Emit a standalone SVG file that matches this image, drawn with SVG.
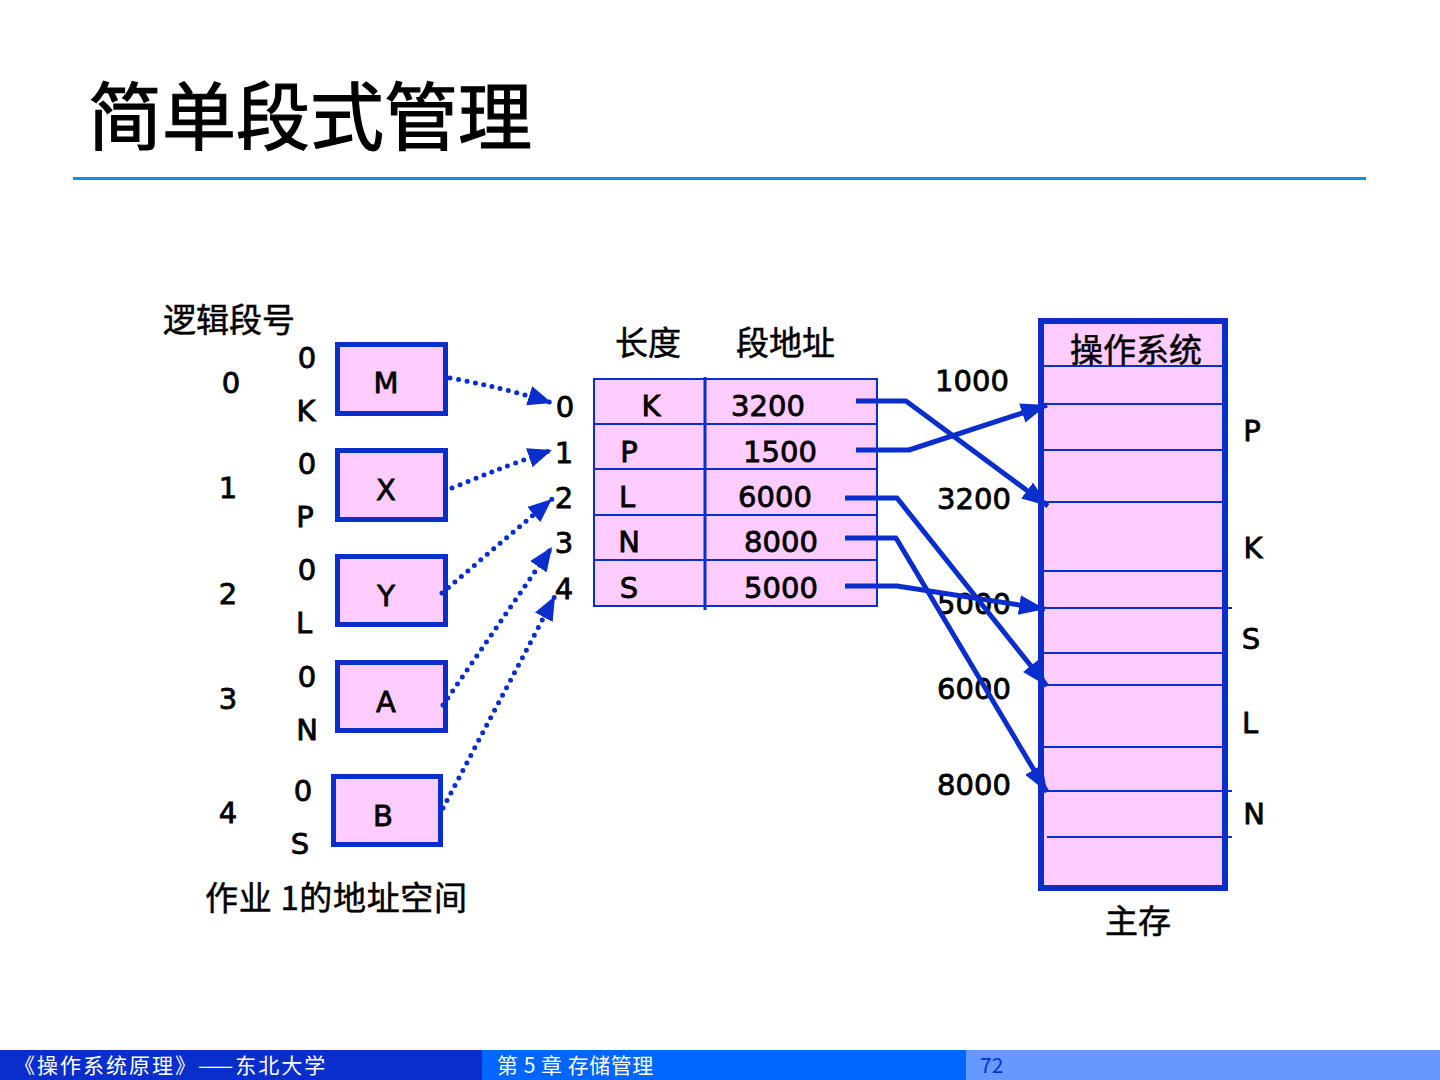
<svg xmlns="http://www.w3.org/2000/svg" width="1440" height="1080" viewBox="0 0 1440 1080">
<defs>
<style>
.t{font-family:"DejaVu Sans","Liberation Sans",sans-serif;font-size:29px;fill:#000;stroke:#000;stroke-width:0.8;text-anchor:middle}
.c{font-family:"Noto Sans CJK SC","Noto Sans CJK JP",sans-serif;font-size:33px;fill:#000;stroke:#000;stroke-width:0.5}
.box{fill:#ffccff;stroke:#0a2ecc;stroke-width:5}
.thin{stroke:#0a2ecc;stroke-width:2;fill:none}
.sol{stroke:#0a2ecc;stroke-width:5;fill:none;stroke-linejoin:round}
.dot{stroke:#0a2ecc;stroke-width:5;fill:none;stroke-linecap:round;stroke-dasharray:0 8.5}
.ft{font-family:"Noto Sans CJK SC",sans-serif;font-size:21px;fill:#fff;letter-spacing:2px}
</style>
<marker id="ah" viewBox="0 0 26 20" refX="26" refY="10" markerWidth="26" markerHeight="20" markerUnits="userSpaceOnUse" orient="auto">
<path d="M0,0 L26,10 L0,20 Z" fill="#0a2ecc"/>
</marker>
<marker id="ad" viewBox="0 0 24 20" refX="24" refY="10" markerWidth="24" markerHeight="20" markerUnits="userSpaceOnUse" orient="auto">
<path d="M0,0 L24,10 L0,20 Z" fill="#0a2ecc"/>
</marker>
</defs>
<rect width="1440" height="1080" fill="#fff"/>

<text x="88" y="144" font-family="Noto Sans CJK SC,sans-serif" font-size="74" fill="#000" stroke="#000" stroke-width="1.2">简单段式管理</text>
<rect x="73" y="177" width="1293" height="3" fill="#1a8ce8"/>

<g id="labels-left">
<text class="c" x="163" y="332">逻辑段号</text>
<text class="t" x="231" y="393">0</text>
<text class="t" x="228" y="498">1</text>
<text class="t" x="228" y="604">2</text>
<text class="t" x="228" y="709">3</text>
<text class="t" x="228" y="823">4</text>
<text class="t" x="307" y="368">0</text>
<text class="t" x="306" y="421">K</text>
<text class="t" x="307" y="474">0</text>
<text class="t" x="305" y="527">P</text>
<text class="t" x="307" y="580">0</text>
<text class="t" x="304" y="633">L</text>
<text class="t" x="307" y="687">0</text>
<text class="t" x="307" y="740">N</text>
<text class="t" x="303" y="801">0</text>
<text class="t" x="300" y="854">S</text>
<text class="c" x="205" y="910" textLength="262" lengthAdjust="spacing">作业 1的地址空间</text>
</g>

<g id="seg-M"><rect class="box" x="337.5" y="344.5" width="108" height="69"/><text class="t" x="386" y="393">M</text></g>
<g id="seg-X"><rect class="box" x="337.5" y="450.5" width="108" height="69"/><text class="t" x="386" y="500">X</text></g>
<g id="seg-Y"><rect class="box" x="337.5" y="556.5" width="108" height="68"/><text class="t" x="386" y="606">Y</text></g>
<g id="seg-A"><rect class="box" x="337.5" y="662.5" width="108" height="68"/><text class="t" x="386" y="712">A</text></g>
<g id="seg-B"><rect class="box" x="333.5" y="776.5" width="107" height="68"/><text class="t" x="383" y="826">B</text></g>

<g id="segment-table">
<text class="c" x="615" y="355">长度</text>
<text class="c" x="736" y="355">段地址</text>
<rect x="594" y="379" width="283" height="227" fill="#ffccff" stroke="#0a2ecc" stroke-width="2"/>
<line class="thin" x1="594" y1="424" x2="877" y2="424"/>
<line class="thin" x1="594" y1="469" x2="877" y2="469"/>
<line class="thin" x1="594" y1="515" x2="877" y2="515"/>
<line class="thin" x1="594" y1="560" x2="877" y2="560"/>
<line x1="705" y1="377" x2="705" y2="610" stroke="#0a2ecc" stroke-width="3"/>
<text class="t" x="565" y="417">0</text>
<text class="t" x="564" y="463">1</text>
<text class="t" x="564" y="508">2</text>
<text class="t" x="564" y="553">3</text>
<text class="t" x="564" y="599">4</text>
<text class="t" x="651" y="416">K</text>
<text class="t" x="629" y="462">P</text>
<text class="t" x="627" y="507">L</text>
<text class="t" x="629" y="552">N</text>
<text class="t" x="629" y="598">S</text>
<text class="t" x="768" y="416">3200</text>
<text class="t" x="780" y="462">1500</text>
<text class="t" x="775" y="507">6000</text>
<text class="t" x="781" y="552">8000</text>
<text class="t" x="781" y="598">5000</text>
</g>

<g id="main-memory">
<rect x="1041" y="321" width="184" height="567" fill="#ffccff" stroke="#0a2ecc" stroke-width="6"/>
<line class="thin" x1="1044" y1="366" x2="1222" y2="366"/>
<line class="thin" x1="1044" y1="404" x2="1222" y2="404"/>
<line class="thin" x1="1044" y1="450" x2="1222" y2="450"/>
<line class="thin" x1="1044" y1="502" x2="1222" y2="502"/>
<line class="thin" x1="1044" y1="571" x2="1222" y2="571"/>
<line class="thin" x1="1044" y1="608" x2="1232" y2="608"/>
<line class="thin" x1="1044" y1="653" x2="1222" y2="653"/>
<line class="thin" x1="1044" y1="685" x2="1222" y2="685"/>
<line class="thin" x1="1044" y1="747" x2="1222" y2="747"/>
<line class="thin" x1="1044" y1="791" x2="1232" y2="791"/>
<line class="thin" x1="1047" y1="837" x2="1232" y2="837"/>
<text class="c" x="1070" y="362">操作系统</text>
<text class="c" x="1105" y="933">主存</text>
<text class="t" x="1252" y="441">P</text>
<text class="t" x="1253" y="558">K</text>
<text class="t" x="1251" y="649">S</text>
<text class="t" x="1250" y="733">L</text>
<text class="t" x="1254" y="824">N</text>
<text class="t" x="972" y="391">1000</text>
<text class="t" x="974" y="509">3200</text>
<text class="t" x="974" y="614">5000</text>
<text class="t" x="974" y="699">6000</text>
<text class="t" x="974" y="795">8000</text>
</g>

<g id="connectors">
<path class="dot" d="M450,378 Q505,388 552,403" marker-end="url(#ad)"/>
<path class="dot" d="M452,488 Q505,466 552,450" marker-end="url(#ad)"/>
<path class="dot" d="M442,593 L552,499" marker-end="url(#ad)"/>
<path class="dot" d="M443,705 L552,547" marker-end="url(#ad)"/>
<path class="dot" d="M443,808 L555,596" marker-end="url(#ad)"/>
<path class="sol" d="M856,401 L906,401 L1048,506" marker-end="url(#ah)"/>
<path class="sol" d="M856,450 L909,450 L1047,405" marker-end="url(#ah)"/>
<path class="sol" d="M845,498 L897,498 L1047,686" marker-end="url(#ah)"/>
<path class="sol" d="M845,538 L896,538 L1047,792" marker-end="url(#ah)"/>
<path class="sol" d="M845,586 L897,586 L1045,609" marker-end="url(#ah)"/>
</g>

<g id="footer">
<rect x="0" y="1050" width="482" height="30" fill="#0a2ecc"/>
<rect x="482" y="1050" width="484" height="30" fill="#0066ff"/>
<rect x="966" y="1050" width="474" height="30" fill="#6699ff"/>
<text class="ft" x="14" y="1073">《操作系统原理》——东北大学</text>
<text class="ft" x="497" y="1073" style="letter-spacing:0.5px">第 5 章  存储管理</text>
<text class="ft" x="980" y="1073" style="fill:#0a2ecc;letter-spacing:0">72</text>
</g>
</svg>
